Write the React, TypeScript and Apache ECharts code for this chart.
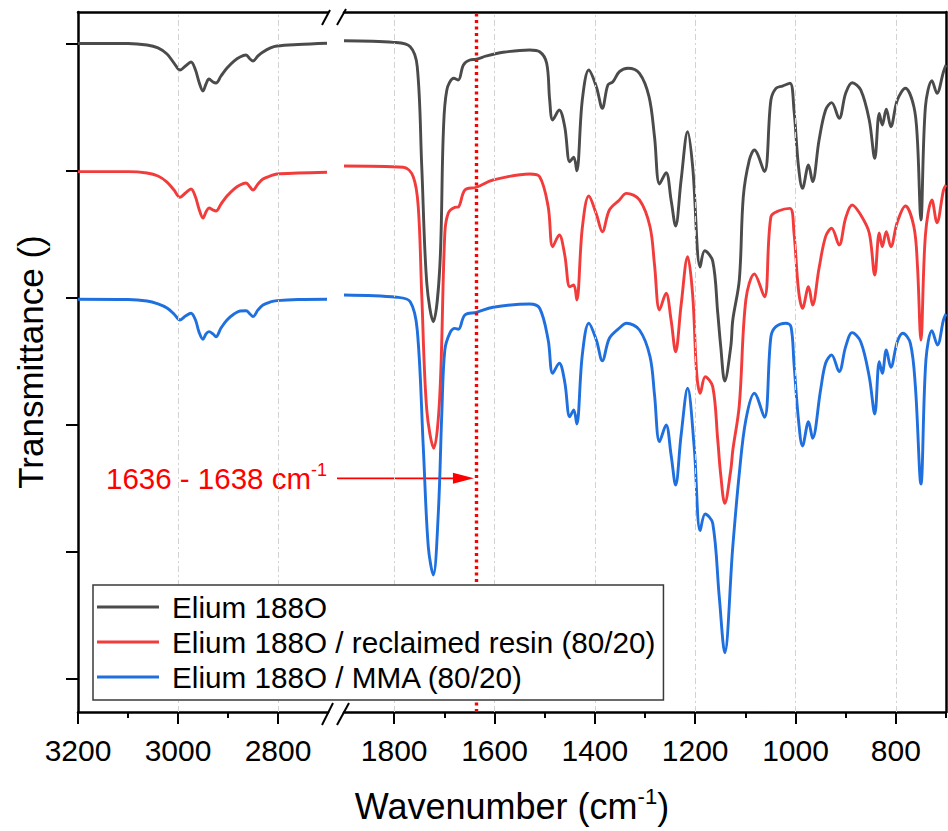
import React, { useEffect, useRef } from 'react';
import * as echarts from 'echarts';

const FONT = '"Liberation Sans", Arial, Helvetica, sans-serif';

const seriesNames = ['Elium 188O', 'Elium 188O / reclaimed resin (80/20)', 'Elium 188O / MMA (80/20)'];
const seriesColors = ['#4b4b4b', '#f23c3c', '#1f70de'];

// Left panel (C-H stretching region), wavenumber [cm-1], offset transmittance (a.u.)
const grayCH: [number, number][] = [
  [3200, 5.004], [3100, 5.004], [3062, 4.992], [3040, 4.969], [3022, 4.921], [3008, 4.850],
  [2996, 4.795], [2985, 4.827], [2974, 4.858], [2965, 4.795], [2958, 4.701], [2950, 4.630],
  [2944, 4.685], [2938, 4.724], [2930, 4.701], [2924, 4.693], [2914, 4.748], [2902, 4.811],
  [2888, 4.866], [2876, 4.898], [2864, 4.913], [2856, 4.882], [2850, 4.866], [2840, 4.906],
  [2830, 4.937], [2815, 4.969], [2802, 4.984], [2760, 4.996], [2702, 5.006],
];
const redCH: [number, number][] = [
  [3200, 3.995], [3100, 3.995], [3062, 3.984], [3040, 3.961], [3022, 3.913], [3008, 3.850],
  [2996, 3.793], [2985, 3.827], [2974, 3.858], [2965, 3.795], [2958, 3.701], [2950, 3.630],
  [2944, 3.677], [2938, 3.709], [2930, 3.693], [2924, 3.685], [2914, 3.740], [2902, 3.803],
  [2888, 3.858], [2876, 3.890], [2864, 3.906], [2856, 3.874], [2850, 3.850], [2840, 3.898],
  [2830, 3.937], [2815, 3.961], [2802, 3.976], [2760, 3.984], [2702, 3.990],
];
const blueCH: [number, number][] = [
  [3200, 2.990], [3100, 2.988], [3062, 2.976], [3040, 2.953], [3022, 2.921], [3008, 2.874],
  [2996, 2.827], [2985, 2.858], [2974, 2.880], [2965, 2.827], [2958, 2.732], [2950, 2.675],
  [2944, 2.717], [2938, 2.735], [2930, 2.717], [2924, 2.695], [2914, 2.764], [2902, 2.827],
  [2888, 2.874], [2876, 2.898], [2864, 2.900], [2856, 2.874], [2850, 2.853], [2840, 2.906],
  [2830, 2.945], [2815, 2.969], [2802, 2.979], [2760, 2.988], [2702, 2.990],
];

// Right panel (fingerprint region)
const grayFP: [number, number][] = [
  [1900, 5.026], [1801, 5.013], [1768, 4.979], [1754, 4.821], [1745, 4.034], [1735, 3.118],
  [1722, 2.813], [1709, 3.246], [1702, 4.299], [1695, 4.638], [1681, 4.730], [1672, 4.717],
  [1662, 4.835], [1649, 4.874], [1636, 4.880], [1616, 4.906], [1583, 4.935], [1530, 4.953],
  [1510, 4.939], [1496, 4.848], [1490, 4.559], [1484, 4.402], [1471, 4.480], [1460, 4.349],
  [1450, 4.073], [1442, 4.108], [1436, 4.002], [1425, 4.559], [1412, 4.795], [1397, 4.664],
  [1385, 4.494], [1374, 4.677], [1364, 4.703], [1351, 4.782], [1334, 4.809], [1311, 4.769],
  [1292, 4.585], [1281, 4.268], [1271, 3.898], [1258, 3.987], [1248, 3.772], [1239, 3.567],
  [1228, 3.929], [1215, 4.309], [1205, 4.034], [1190, 3.244], [1181, 3.372], [1165, 3.290],
  [1155, 2.882], [1149, 2.617], [1141, 2.346], [1129, 2.617], [1125, 2.827], [1112, 3.142],
  [1104, 3.800], [1092, 4.087], [1082, 4.165], [1062, 3.995], [1049, 4.559], [1039, 4.651],
  [1026, 4.669], [1011, 4.691], [1003, 4.480], [994, 4.034], [986, 3.864], [974, 4.047],
  [966, 3.916], [953, 4.244], [940, 4.480], [928, 4.538], [913, 4.415], [900, 4.612],
  [887, 4.695], [870, 4.638], [853, 4.402], [842, 4.100], [833, 4.454], [827, 4.362],
  [819, 4.486], [810, 4.349], [797, 4.559], [781, 4.651], [764, 4.506], [757, 4.244],
  [750, 3.614], [741, 4.506], [728, 4.711], [718, 4.612], [705, 4.782], [700, 4.835],
];
const redFP: [number, number][] = [
  [1900, 4.039], [1782, 4.029], [1762, 3.955], [1752, 3.719], [1745, 3.024], [1735, 2.118],
  [1721, 1.817], [1709, 2.236], [1699, 3.512], [1692, 3.669], [1679, 3.714], [1672, 3.717],
  [1659, 3.850], [1636, 3.872], [1603, 3.929], [1530, 3.976], [1510, 3.955], [1493, 3.719],
  [1484, 3.404], [1471, 3.496], [1460, 3.339], [1450, 3.089], [1442, 3.102], [1436, 2.984],
  [1425, 3.551], [1412, 3.803], [1397, 3.661], [1385, 3.522], [1371, 3.693], [1351, 3.772],
  [1337, 3.824], [1311, 3.772], [1290, 3.561], [1281, 3.260], [1271, 2.906], [1258, 3.037],
  [1248, 2.827], [1239, 2.577], [1228, 2.945], [1215, 3.325], [1205, 3.024], [1197, 2.409],
  [1190, 2.250], [1180, 2.380], [1165, 2.302], [1155, 1.882], [1149, 1.606], [1141, 1.383],
  [1129, 1.646], [1125, 1.800], [1112, 2.157], [1099, 2.984], [1082, 3.189], [1062, 3.010],
  [1049, 3.640], [1033, 3.687], [1011, 3.706], [1003, 3.512], [994, 3.063], [986, 2.919],
  [974, 3.089], [966, 2.945], [953, 3.236], [940, 3.483], [928, 3.549], [913, 3.417],
  [900, 3.630], [887, 3.732], [870, 3.654], [853, 3.512], [842, 3.181], [833, 3.512],
  [827, 3.404], [819, 3.522], [810, 3.404], [797, 3.598], [781, 3.724], [764, 3.561],
  [757, 3.260], [750, 2.669], [741, 3.496], [728, 3.772], [718, 3.593], [705, 3.850],
  [700, 3.890],
];
const blueFP: [number, number][] = [
  [1900, 3.024], [1795, 3.006], [1768, 2.971], [1754, 2.748], [1742, 1.829], [1732, 1.042],
  [1722, 0.819], [1712, 1.307], [1705, 2.094], [1699, 2.591], [1689, 2.724], [1679, 2.761],
  [1672, 2.754], [1659, 2.866], [1636, 2.887], [1603, 2.927], [1530, 2.953], [1510, 2.919],
  [1493, 2.669], [1484, 2.407], [1471, 2.486], [1460, 2.339], [1450, 2.065], [1442, 2.118],
  [1436, 2.008], [1425, 2.551], [1412, 2.801], [1397, 2.669], [1385, 2.506], [1371, 2.683],
  [1351, 2.764], [1337, 2.801], [1311, 2.748], [1290, 2.538], [1281, 2.236], [1271, 1.869],
  [1258, 2.000], [1248, 1.764], [1239, 1.528], [1228, 1.921], [1215, 2.289], [1202, 1.829],
  [1190, 1.168], [1180, 1.299], [1165, 1.226], [1152, 0.648], [1141, 0.207], [1125, 1.042],
  [1112, 1.620], [1099, 2.039], [1082, 2.250], [1062, 2.061], [1049, 2.695], [1039, 2.774],
  [1019, 2.801], [1009, 2.774], [1003, 2.486], [994, 2.039], [986, 1.835], [974, 2.026],
  [966, 1.895], [950, 2.276], [940, 2.486], [928, 2.551], [913, 2.420], [900, 2.617],
  [887, 2.727], [870, 2.656], [853, 2.380], [842, 2.087], [833, 2.498], [827, 2.407],
  [819, 2.591], [810, 2.454], [797, 2.656], [786, 2.722], [771, 2.643], [761, 2.302],
  [750, 1.535], [740, 2.512], [728, 2.743], [717, 2.630], [705, 2.827], [700, 2.874],
];

const leftRange = [2700, 3200];
const rightRange = [700, 1900];
const leftMajorTicks = [3200, 3000, 2800];
const leftMinorTicks = [3100, 2900];
const rightMajorTicks = [1800, 1600, 1400, 1200, 1000, 800];
const rightMinorTicks = [1700, 1500, 1300, 1100, 900, 700];
const yTicks = [0, 1, 2, 3, 4, 5];
const yRange = [-0.26, 5.252];
const markedWavenumber = 1637;
const annotationLevel = 1.58;
const annotationText = '1636 - 1638 cm';

const BLACK = '#000';
const RED = '#ff0000';
const axisLineStyle = { color: BLACK, width: 2.5 };

function makeXAxes(gridIndex: number, range: number[], major: number[], minor: number[]) {
  const base = { type: 'value', gridIndex, min: range[0], max: range[1], inverse: true, splitLine: { show: false } };
  return [
    {
      ...base,
      position: 'bottom',
      axisLine: { show: true, onZero: false, lineStyle: axisLineStyle },
      axisTick: { show: true, customValues: major, length: 12, inside: false, lineStyle: { color: BLACK, width: 2 } },
      axisLabel: {
        show: true, customValues: major, margin: 23, fontSize: 30, color: BLACK, fontFamily: FONT,
        formatter: (v: number) => String(v),
      },
    },
    {
      ...base,
      position: 'bottom',
      axisLine: { show: false, onZero: false },
      axisTick: { show: true, customValues: minor, length: 6, inside: false, lineStyle: { color: BLACK, width: 2 } },
      axisLabel: { show: false },
    },
    {
      ...base,
      position: 'top',
      axisLine: { show: true, onZero: false, lineStyle: axisLineStyle },
      axisTick: { show: false },
      axisLabel: { show: false },
    },
  ];
}

const gridLineStyle = { color: '#d2d2d2', width: 1, type: [6, 3, 2, 3] };

export default function App() {
  const ref = useRef<HTMLDivElement>(null);
  useEffect(() => {
    if (!ref.current) return;
    const chart = echarts.init(ref.current, null, { renderer: 'svg' });
    const spectra = [
      [grayCH, grayFP],
      [redCH, redFP],
      [blueCH, blueFP],
    ];
    const specSeries: any[] = [];
    spectra.forEach((pair, i) => {
      pair.forEach((data, panel) => {
        specSeries.push({
          type: 'line',
          name: seriesNames[i],
          xAxisIndex: panel === 0 ? 0 : 3,
          yAxisIndex: panel,
          data,
          showSymbol: false,
          symbol: 'none',
          smooth: 0.35,
          z: 3,
          lineStyle: { color: seriesColors[i], width: 2.9 },
          itemStyle: { color: seriesColors[i] },
        });
      });
    });

    const option: any = {
      animation: false,
      backgroundColor: '#fff',
      grid: [
        { left: 78, top: 12, width: 250, height: 700 },
        { left: 344, top: 12, width: 602, height: 700 },
      ],
      xAxis: [
        ...makeXAxes(0, leftRange, leftMajorTicks, leftMinorTicks),
        ...makeXAxes(1, rightRange, rightMajorTicks, rightMinorTicks),
      ],
      yAxis: [
        {
          type: 'value', gridIndex: 0, min: yRange[0], max: yRange[1], position: 'left',
          axisLine: { show: true, onZero: false, lineStyle: axisLineStyle },
          axisTick: { show: true, customValues: yTicks, length: 12, inside: false, lineStyle: { color: BLACK, width: 2 } },
          axisLabel: { show: false },
          splitLine: { show: false },
        },
        {
          type: 'value', gridIndex: 1, min: yRange[0], max: yRange[1], position: 'right',
          axisLine: { show: true, onZero: false, lineStyle: axisLineStyle },
          axisTick: { show: false },
          axisLabel: { show: false },
          splitLine: { show: false },
        },
      ],
      legend: {
        data: seriesNames,
        orient: 'vertical',
        left: 93,
        top: 585,
        z: 30,
        padding: [7, 8, 8, 4],
        itemGap: 5,
        icon: 'rect',
        itemWidth: 62,
        itemHeight: 3,
        selectedMode: false,
        backgroundColor: '#fff',
        borderColor: '#3a3a3a',
        borderWidth: 1.5,
        borderRadius: 0,
        textStyle: { fontSize: 29.7, lineHeight: 30, fontFamily: FONT, color: BLACK, padding: [0, 0, 0, 8] },
      },
      series: [
        {
          type: 'line', xAxisIndex: 0, yAxisIndex: 0, data: [], z: 1, silent: true,
          markLine: {
            silent: true, symbol: ['none', 'none'], label: { show: false }, lineStyle: gridLineStyle,
            data: leftMajorTicks.filter((v) => v !== leftRange[1]).map((v) => ({ xAxis: v })),
          },
        },
        {
          type: 'line', xAxisIndex: 3, yAxisIndex: 1, data: [], z: 1, silent: true,
          markLine: {
            silent: true, symbol: ['none', 'none'], label: { show: false }, lineStyle: gridLineStyle,
            data: rightMajorTicks.map((v) => ({ xAxis: v })),
          },
        },
        ...specSeries,
        {
          type: 'line', xAxisIndex: 3, yAxisIndex: 1, data: [], z: 6, silent: true,
          color: RED,
          markLine: {
            silent: true, symbol: ['none', 'none'], label: { show: false },
            lineStyle: { color: RED, width: 3.4, type: [3, 3.5], cap: 'butt', opacity: 1 },
            emphasis: { disabled: true },
            data: [{ xAxis: markedWavenumber, lineStyle: { color: RED, width: 3.4, type: [3, 3.5], opacity: 1 } }],
          },
        },
      ],
    };
    chart.setOption(option);

    const tip = chart.convertToPixel({ xAxisIndex: 3, yAxisIndex: 1 } as any, [markedWavenumber, annotationLevel]) as number[];
    const tipX = tip[0] - 2;
    const tipY = tip[1];
    const brk = { stroke: BLACK, lineWidth: 2 };
    chart.setOption({
      graphic: [
        {
          type: 'text', id: 'ytitle', x: 30, y: 362, rotation: Math.PI / 2,
          style: {
            text: 'Transmittance ()', fontSize: 35, fontFamily: FONT, fill: BLACK,
            align: 'center', verticalAlign: 'middle', textAlign: 'center', textVerticalAlign: 'middle',
          },
        },
        {
          type: 'text', id: 'xtitle', x: 512, y: 806,
          style: {
            text: '{a|Wavenumber (cm}{s|-1}{a|)}',
            rich: {
              a: { fontSize: 36, fontFamily: FONT, fill: BLACK, color: BLACK, lineHeight: 42 },
              s: { fontSize: 22, fontFamily: FONT, fill: BLACK, color: BLACK, verticalAlign: 'top', lineHeight: 26 },
            },
            align: 'center', verticalAlign: 'middle', textAlign: 'center', textVerticalAlign: 'middle',
          },
        },
        {
          type: 'text', id: 'annot', x: 106, y: tipY,
          style: {
            text: `{a|${annotationText}}{s|-1}`,
            rich: {
              a: { fontSize: 29.5, fontFamily: FONT, fill: RED, color: RED, lineHeight: 34 },
              s: { fontSize: 18, fontFamily: FONT, fill: RED, color: RED, verticalAlign: 'top', lineHeight: 20 },
            },
            align: 'left', verticalAlign: 'middle', textAlign: 'left', textVerticalAlign: 'middle',
          },
        },
        {
          type: 'line', id: 'arrowLine', z: 1,
          shape: { x1: 337, y1: tipY, x2: tipX - 16, y2: tipY },
          style: { stroke: RED, lineWidth: 1.6 },
        },
        {
          type: 'polygon', id: 'arrowHead', z: 1,
          shape: { points: [[tipX - 21, tipY - 5.5], [tipX, tipY], [tipX - 21, tipY + 5.5]] },
          style: { fill: RED },
        },
        { type: 'line', id: 'b1', shape: { x1: 322, y1: 725, x2: 333, y2: 703 }, style: brk },
        { type: 'line', id: 'b2', shape: { x1: 337, y1: 725, x2: 349, y2: 703 }, style: brk },
        { type: 'line', id: 't1', shape: { x1: 322, y1: 25, x2: 330, y2: 10 }, style: brk },
        { type: 'line', id: 't2', shape: { x1: 337, y1: 25, x2: 346, y2: 9 }, style: brk },
      ],
    });

    return () => chart.dispose();
  }, []);

  return (
    <div
      ref={ref}
      style={{ position: 'fixed', left: 0, top: 0, width: 948, height: 831, background: '#fff' }}
    />
  );
}
